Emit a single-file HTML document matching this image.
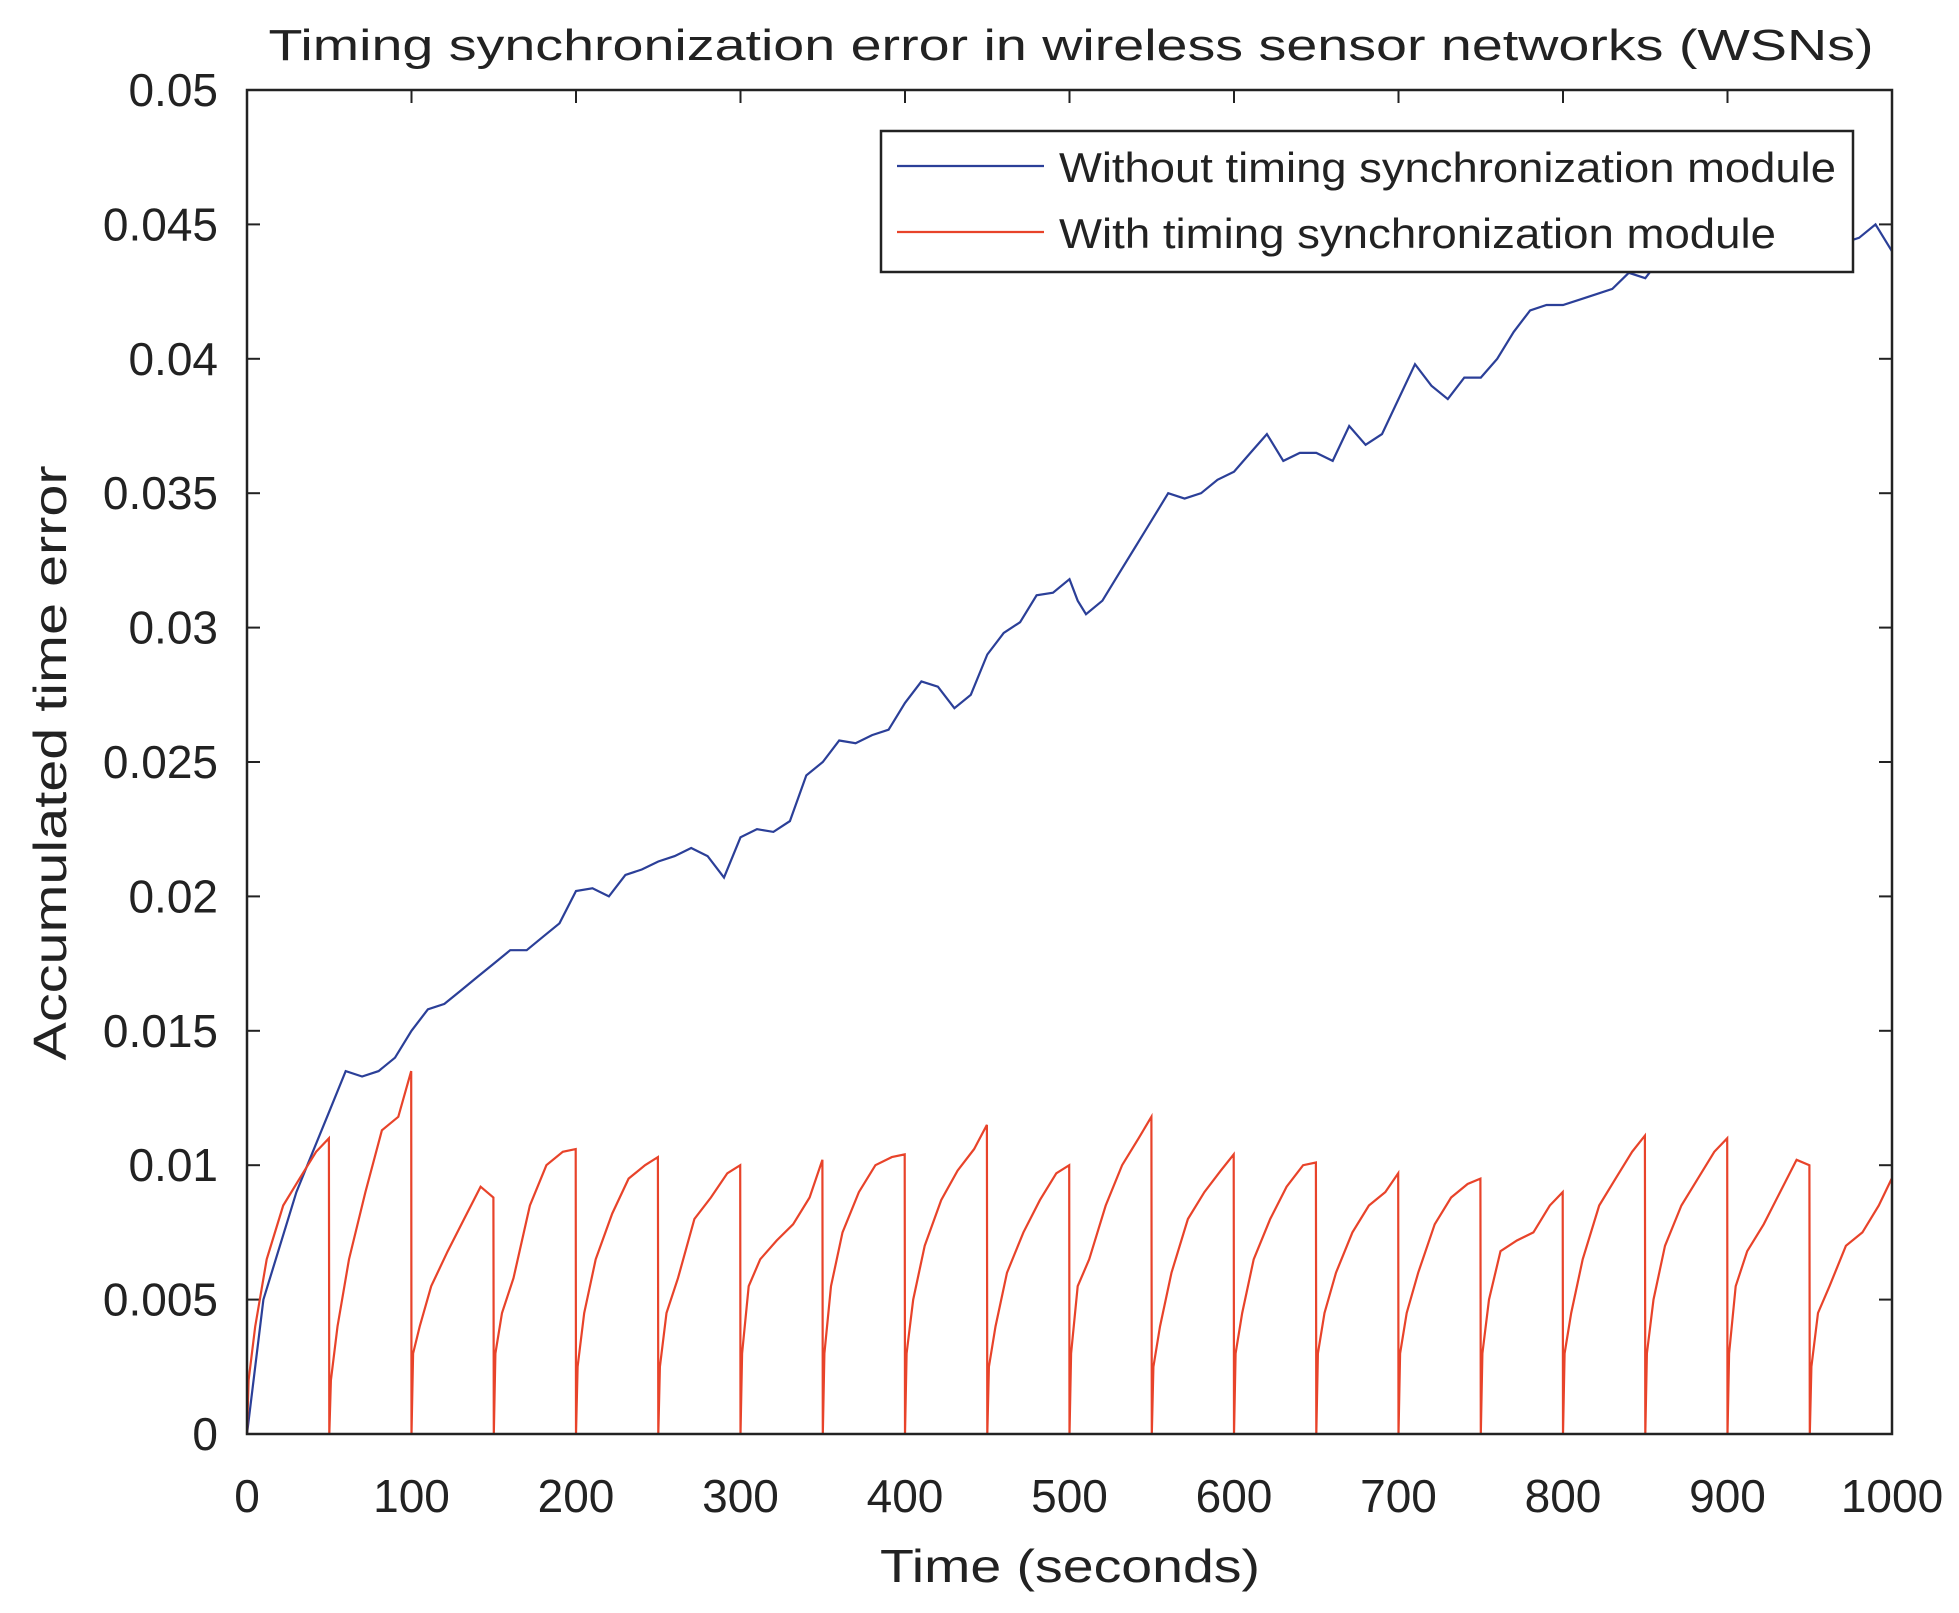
<!DOCTYPE html>
<html><head><meta charset="utf-8"><style>
html,body{margin:0;padding:0;background:#fff;}
svg{display:block;font-family:"Liberation Sans",Arial,sans-serif;}
</style></head><body>
<svg id="chart" width="1959" height="1613" viewBox="0 0 1959 1613" xmlns="http://www.w3.org/2000/svg">
<rect width="1959" height="1613" fill="#fff"/>
<text x="1071" y="60" font-size="44" text-anchor="middle" textLength="1605" lengthAdjust="spacingAndGlyphs" fill="#222">Timing synchronization error in wireless sensor networks (WSNs)</text>
<g id="plot"></g>
<text x="1070" y="1582" font-size="46" text-anchor="middle" fill="#222" textLength="380" lengthAdjust="spacingAndGlyphs">Time (seconds)</text>
<text transform="translate(66,763) rotate(-90)" font-size="46" text-anchor="middle" fill="#222" textLength="595" lengthAdjust="spacingAndGlyphs">Accumulated time error</text>
</svg>
<script>
const xTicks=[0,100,200,300,400,500,600,700,800,900,1000];
const yTicks=[0,0.005,0.01,0.015,0.02,0.025,0.03,0.035,0.04,0.045,0.05];
const yTickLabels=["0","0.005","0.01","0.015","0.02","0.025","0.03","0.035","0.04","0.045","0.05"];
const blueTimes=[0,10,20,30,40,50,60,70,80,90,100,110,120,130,140,150,160,170,180,190,200,210,220,230,240,250,260,270,280,290,300,310,320,330,340,350,360,370,380,390,400,410,420,430,440,450,460,470,480,490,500,505,510,520,530,540,550,560,570,580,590,600,610,620,630,640,650,660,670,680,690,700,710,720,730,740,750,760,770,780,790,800,810,820,830,840,850,860,870,880,890,900,910,920,930,940,950,960,970,980,990,1000];
const blueValues=[0,0.005,0.007,0.009,0.0105,0.012,0.0135,0.0133,0.0135,0.014,0.015,0.0158,0.016,0.0165,0.017,0.0175,0.018,0.018,0.0185,0.019,0.0202,0.0203,0.020,0.0208,0.021,0.0213,0.0215,0.0218,0.0215,0.0207,0.0222,0.0225,0.0224,0.0228,0.0245,0.025,0.0258,0.0257,0.026,0.0262,0.0272,0.028,0.0278,0.027,0.0275,0.029,0.0298,0.0302,0.0312,0.0313,0.0318,0.031,0.0305,0.031,0.032,0.033,0.034,0.035,0.0348,0.035,0.0355,0.0358,0.0365,0.0372,0.0362,0.0365,0.0365,0.0362,0.0375,0.0368,0.0372,0.0385,0.0398,0.039,0.0385,0.0393,0.0393,0.040,0.041,0.0418,0.042,0.042,0.0422,0.0424,0.0426,0.0432,0.043,0.0438,0.044,0.0445,0.0448,0.0448,0.0452,0.0455,0.0452,0.0456,0.0455,0.0455,0.0443,0.0445,0.045,0.044];
const cycleStarts=[0,50,100,150,200,250,300,350,400,450,500,550,600,650,700,750,800,850,900,950];
const cycleOffsets=[0,1,5,12,22,32,42,49.8];
const redCycleValues=[
[0,0.002,0.004,0.0065,0.0085,0.0095,0.0105,0.011],
[0,0.002,0.004,0.0065,0.009,0.0113,0.0118,0.0135],
[0,0.003,0.004,0.0055,0.0068,0.0080,0.0092,0.0088],
[0,0.003,0.0045,0.0058,0.0085,0.0100,0.0105,0.0106],
[0,0.0025,0.0045,0.0065,0.0082,0.0095,0.0100,0.0103],
[0,0.0025,0.0045,0.0058,0.0080,0.0088,0.0097,0.0100],
[0,0.003,0.0055,0.0065,0.0072,0.0078,0.0088,0.0102],
[0,0.003,0.0055,0.0075,0.0090,0.0100,0.0103,0.0104],
[0,0.003,0.005,0.0070,0.0087,0.0098,0.0106,0.0115],
[0,0.0025,0.004,0.0060,0.0075,0.0087,0.0097,0.0100],
[0,0.003,0.0055,0.0065,0.0085,0.0100,0.0110,0.0118],
[0,0.0025,0.004,0.0060,0.0080,0.0090,0.0098,0.0104],
[0,0.003,0.0045,0.0065,0.0080,0.0092,0.0100,0.0101],
[0,0.003,0.0045,0.0060,0.0075,0.0085,0.0090,0.0097],
[0,0.003,0.0045,0.0060,0.0078,0.0088,0.0093,0.0095],
[0,0.003,0.0050,0.0068,0.0072,0.0075,0.0085,0.0090],
[0,0.003,0.0045,0.0065,0.0085,0.0095,0.0105,0.0111],
[0,0.003,0.0050,0.0070,0.0085,0.0095,0.0105,0.0110],
[0,0.003,0.0055,0.0068,0.0078,0.0090,0.0102,0.0100],
[0,0.0025,0.0045,0.0055,0.0070,0.0075,0.0085,0.0095]];

const NS="http://www.w3.org/2000/svg";
const X0=247,X1=1892,Y0=90,Y1=1434;
const sx=t=>X0+(t-0)/(1000-0)*(X1-X0);
const sy=v=>Y1-(v-0)/(0.05-0)*(Y1-Y0);
const g=document.getElementById('plot');
function mk(tag,attrs,parent){const e=document.createElementNS(NS,tag);for(const k in attrs)e.setAttribute(k,attrs[k]);(parent||g).appendChild(e);return e;}

// ticks
xTicks.forEach((t,i)=>{
  const x=sx(t);
  const a=mk('line',{x1:x,x2:x,y1:Y1,y2:Y1-13,stroke:'#222','stroke-width':2});
  
  
  const b=mk('line',{x1:x,x2:x,y1:Y0,y2:Y0+13,stroke:'#222','stroke-width':2});
  
  
  const l=mk('text',{x:x,y:1512,'font-size':46,'text-anchor':'middle',fill:'#222'});
  l.textContent=String(t);
  
  
});
yTicks.forEach((v,i)=>{
  const y=sy(v);
  const a=mk('line',{x1:X0,x2:X0+13,y1:y,y2:y,stroke:'#222','stroke-width':2});
  
  
  const b=mk('line',{x1:X1,x2:X1-13,y1:y,y2:y,stroke:'#222','stroke-width':2});
  
  
  const l=mk('text',{x:218,y:y+16,'font-size':46,'text-anchor':'end',fill:'#222'});
  l.textContent=yTickLabels[i];
  
  
});

// blue series
let d='';
blueTimes.forEach((t,i)=>{d+=(i?'L':'M')+sx(t).toFixed(1)+','+sy(blueValues[i]).toFixed(1);});
const bl=mk('path',{d:d,fill:'none',stroke:'#2b3f98','stroke-width':2.2});



// red series
let r='';
cycleStarts.forEach((s,ci)=>{
  cycleOffsets.forEach((o,j)=>{
    const t=s+o;
    r+=((ci===0&&j===0)?'M':'L')+sx(t).toFixed(1)+','+sy(redCycleValues[ci][j]).toFixed(1);
  });
});
const rl=mk('path',{d:r,fill:'none',stroke:'#e8432a','stroke-width':2.2});



// axes box
const box=mk('rect',{x:X0,y:Y0,width:X1-X0,height:Y1-Y0,fill:'none',stroke:'#222','stroke-width':2.5});



// legend
const lg=mk('g',{});


mk('rect',{x:881,y:131,width:972,height:141,fill:'#fff',stroke:'#222','stroke-width':2.5},lg);
const l1=mk('line',{x1:897,x2:1044,y1:166,y2:166,stroke:'#2b3f98','stroke-width':2.2},lg);


const t1=mk('text',{x:1059,y:182,'font-size':42,fill:'#222',textLength:777,lengthAdjust:'spacingAndGlyphs'},lg);
t1.textContent='Without timing synchronization module';


const l2=mk('line',{x1:897,x2:1044,y1:232,y2:232,stroke:'#e8432a','stroke-width':2.2},lg);


const t2=mk('text',{x:1059,y:248,'font-size':42,fill:'#222',textLength:717,lengthAdjust:'spacingAndGlyphs'},lg);
t2.textContent='With timing synchronization module';


</script>
</body></html>
